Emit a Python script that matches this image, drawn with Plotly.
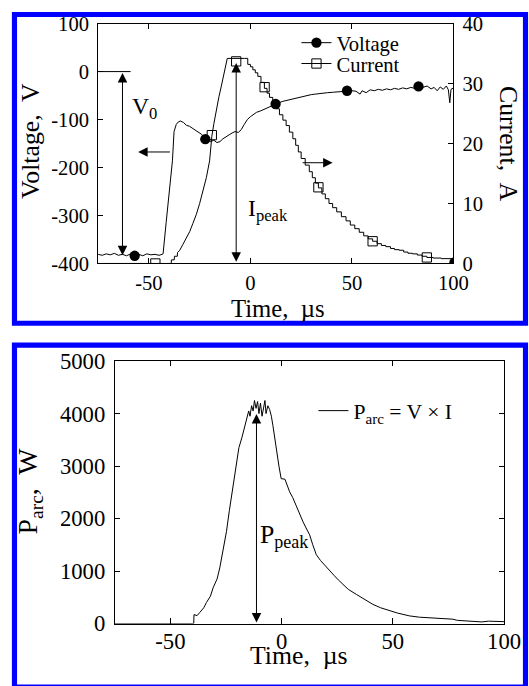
import plotly.graph_objects as go

# Reference picture size; the page is drawn a little larger (the capture scales it to 529 px wide)
REF_W, REF_H = 529, 686
K = 529 / 545          # capture scale
TOP_PAD = 10           # vertical offset of the capture, in picture pixels
W, H = 545, 686
S = 1 / K

# ---------------- Data ----------------
# Voltage trace (time in us, voltage in V)
volt_t = [-75, -73, -71, -69, -67, -65, -63, -61, -59, -57, -55, -53, -51, -49, -47, -45, -43.5, -43,
          -41.5, -40, -38.4, -37.6, -36.5, -35.5, -34.5, -33, -31.5, -30, -28.5, -27, -25.5, -24, -22.5, -21,
          -19.5, -18, -16.5, -15, -13.5, -12, -10.5, -9, -7.5, -6, -4.5, -3, -1.5, 0, 1.5, 3, 5, 7,
          9, 10.5, 12.4, 14, 16, 18, 20, 22, 24, 26, 28, 30, 32, 35, 38, 41, 44, 47.6, 50, 52, 54,
          55, 57, 59, 61, 63, 65, 67, 69, 71, 73, 75, 77, 79, 81, 82.8, 85, 87, 89, 90.5, 92, 93.5,
          95, 96.5, 97.5, 98.2, 98.8, 100]
volt_v = [-381, -383, -380, -382, -379, -383, -381, -384, -380, -383, -381, -384, -380, -382, -381, -383, -381, -380,
          -315, -250, -186, -125, -110, -105, -103, -106, -112, -114, -118, -122, -126, -131, -138, -141,
          -146, -143, -148, -146, -140, -135, -132, -128, -125, -127, -121, -110, -100, -94, -89, -85, -82, -78,
          -75, -71, -68, -65, -62, -60, -58, -56, -53, -51, -50, -48, -47, -45, -44, -43, -42, -40, -40, -41, -47,
          -40, -44, -38, -40, -37, -39, -36, -38, -35, -37, -34, -36, -33, -35, -31, -33, -30, -36, -33, -40, -32,
          -37, -30, -38, -65, -37, -34]
volt_marker_t = [-57, -22.2, 12.4, 47.6, 82.8, 100.5]
volt_marker_v = [-384, -141, -67.6, -40, -31, -398]

# Current trace (time in us, current in A): rising edge, then stepped plateau/decay
curr_rise_t = [-75, -39, -38.9, -37.5, -37.4, -36, -35.9, -34.8, -33.2, -31.5, -29.9, -28.3, -26.6, -25,
               -23.4, -21.7, -20.1, -19, -18, -16.8, -15.5, -14.3, -12.7, -11.9, -11.4]
curr_rise_i = [0, 0, 0.6, 0.6, 1.2, 1.2, 1.8, 2.2, 3.2, 4.2, 5.3, 6.7, 8.2, 10,
               12, 14.3, 17.1, 21.2, 23.3, 25.8, 27.8, 29.6, 32.3, 33.7, 34.2]
curr_fall_t = [-11.4, -2.9, -1.3, 0, 1.2, 2.4, 3.65, 5.2, 6.9, 8.2, 9.4, 11,
               12.7, 14.3, 16, 17.6, 19.2, 20.9, 22.3, 23.6, 25, 27, 29, 30.5, 32, 33.5, 35.2, 36.9, 38.7, 40.5,
               42.5, 44.8, 47.1, 49.2, 51.4, 53.6, 55.8, 58, 60.2, 62.4, 64.5, 66.7, 69, 71, 73.3, 75.5, 77.6,
               79.8, 82.2, 84.5, 86.9, 90, 94, 100]
curr_fall_i = [34.2, 34.2, 33.2, 32.8, 32.3, 31.8, 31.2, 30.2, 29.2, 28.4, 27.7, 26.8,
               25.8, 24.8, 23.9, 23, 21.9, 20.8, 19.7, 18.6, 17.5, 16.4, 15.3, 14.3, 13.4, 12.6, 11.6, 10.8, 10, 9.3,
               8.6, 7.8, 7.1, 6.4, 5.8, 5.2, 4.6, 4.1, 3.7, 3.3, 3.0, 2.8, 2.5, 2.3, 2.2, 1.9, 1.7,
               1.6, 1.4, 1.2, 1.0, 0.9, 0.8, 0.8]
curr_marker_t = [-46.8, -19, -7, 7, 33.5, 60.2, 86.9]
curr_marker_i = [0, 21.4, 33.7, 29.4, 12.7, 3.7, 1.0]

# Arc power trace (time in us, power in W)
pow_t = [-75, -39.5, -39.4, -38, -36.8, -35, -33.8, -32, -30.8, -29, -27.8, -26.5, -24.8, -23.5, -21.9,
         -20.5, -19.2, -17.8, -16.5, -15.5, -14.8, -14.2, -13.5, -12.8, -12.2, -11.5, -10.8, -10.2, -9.5,
         -8.8, -8.2, -7.5, -7, -6.2, -5.4, -4.6, -3.9, -3.2, -2.4, -1.2, -0.2, 1.5, 3.6, 5, 6.5, 8.1, 9.5,
         11, 12.6, 14, 15.6, 17.5, 19.5, 21.6, 23.5, 25.5, 27.6, 30, 33.6, 37, 41, 44.5, 48.5, 52, 55,
         57.5, 62, 68, 72, 77, 79, 86, 90, 93, 98, 100]
pow_p = [0, 0, 170, 150, 210, 300, 400, 520, 680, 850, 1060, 1350, 1750, 2150, 2630,
         3000, 3350, 3550, 3750, 3900, 4050, 3950, 4150, 4050, 4250, 4100, 4230, 4000, 4200,
         3950, 4100, 4250, 4000, 4150, 4080, 3950, 3770, 3550, 3270, 3000, 2760, 2750, 2510, 2400, 2250, 2070, 1950,
         1820, 1690, 1500, 1310, 1200, 1100, 1000, 920, 830, 745, 650, 555, 470, 365, 300, 240, 200, 170,
         145, 120, 100, 95, 82, 60, 40, 30, 45, 40, 35]

# Tick labels
x_ticks = [-50, 0, 50, 100]
x_ticktext = ["-50", "0", "50", "100"]
v_ticks = [100, 0, -100, -200, -300, -400]
v_ticktext = ["100", "0", "-100", "-200", "-300", "-400"]
i_ticks = [0, 10, 20, 30, 40]
i_ticktext = ["0", "10", "20", "30", "40"]
p_ticks = [0, 1000, 2000, 3000, 4000, 5000]
p_ticktext = ["0", "1000", "2000", "3000", "4000", "5000"]

# Annotation anchor values
V0_T, V0_TOP, V0_BOT = -63, 0, -383
LEFT_ARROW = (-38.9, -55.3, -167.6)
RIGHT_ARROW = (25, 40.5, 16.8)
IPEAK_T, IPEAK_TOP, IPEAK_BOT = -7, 33.7, 0.27
PPEAK_T, PPEAK_TOP, PPEAK_BOT = -11.3, 4020, 19

FONT = "Liberation Serif"


def px(x):
    """reference picture x (px) -> paper fraction"""
    return x / REF_W


def py(y):
    """reference picture y (px from top) -> paper fraction"""
    css = (y - TOP_PAD) / K
    return 1 - css / H


def s(v):
    return v * S


fig = go.Figure()

# ---- Top panel ----
fig.add_trace(go.Scatter(x=volt_t, y=volt_v, mode="lines", line=dict(color="black", width=1),
                         xaxis="x", yaxis="y", showlegend=False, hoverinfo="skip"))
fig.add_trace(go.Scatter(x=volt_marker_t, y=volt_marker_v, mode="markers",
                         marker=dict(symbol="circle", size=s(10), color="black"),
                         xaxis="x", yaxis="y", showlegend=False))
fig.add_trace(go.Scatter(x=curr_rise_t, y=curr_rise_i, mode="lines", line=dict(color="black", width=1),
                         xaxis="x", yaxis="y2", showlegend=False, hoverinfo="skip"))
fig.add_trace(go.Scatter(x=curr_fall_t, y=curr_fall_i, mode="lines", line=dict(color="black", width=1, shape="hv"),
                         xaxis="x", yaxis="y2", showlegend=False, hoverinfo="skip"))
fig.add_trace(go.Scatter(x=curr_marker_t, y=curr_marker_i, mode="markers",
                         marker=dict(symbol="square-open", size=s(9), color="black", line=dict(width=1)),
                         xaxis="x", yaxis="y2", showlegend=False))
# legend entries (one legend per entry so the row spacing matches)
fig.add_trace(go.Scatter(x=[None], y=[None], mode="lines+markers", name="Voltage",
                         line=dict(color="black", width=1), marker=dict(symbol="circle", size=s(10), color="black"),
                         xaxis="x", yaxis="y", legend="legend"))
fig.add_trace(go.Scatter(x=[None], y=[None], mode="lines+markers", name="Current",
                         line=dict(color="black", width=1),
                         marker=dict(symbol="square-open", size=s(9), color="black", line=dict(width=1)),
                         xaxis="x", yaxis="y2", legend="legend3"))

# ---- Bottom panel ----
fig.add_trace(go.Scatter(x=pow_t, y=pow_p, mode="lines", line=dict(color="black", width=1),
                         name="P<sub>arc</sub> = V × I", xaxis="x2", yaxis="y3", legend="legend2"))

tick_common = dict(ticks="inside", ticklen=s(5), tickcolor="black", showgrid=False, zeroline=False,
                   showline=True, linecolor="black", linewidth=1)

top_x = [px(98.3), px(454.3)]
top_y = [py(263.3), py(21.7)]
bot_x = [px(115), px(505)]
bot_y = [py(626), py(361.7)]

leg_common = dict(xanchor="left", yanchor="middle", bgcolor="rgba(0,0,0,0)", itemwidth=30,
                  borderwidth=0)

fig.update_layout(
    width=W, height=H, autosize=False,
    margin=dict(l=0, r=0, t=0, b=0),
    paper_bgcolor="white", plot_bgcolor="white",
    font=dict(family=FONT, color="black"),
    xaxis=dict(domain=top_x, anchor="y", range=[-75, 100], tickvals=x_ticks, ticktext=x_ticktext,
               mirror="ticks", tickfont=dict(size=s(20), family=FONT), ticklabelstandoff=1, **tick_common),
    yaxis=dict(domain=top_y, anchor="x", range=[-400, 100], tickvals=v_ticks, ticktext=v_ticktext,
               tickfont=dict(size=s(20), family=FONT), ticklabelstandoff=4, **tick_common),
    yaxis2=dict(domain=top_y, anchor="x", overlaying="y", side="right", range=[0, 40], tickvals=i_ticks,
                ticktext=i_ticktext, tickfont=dict(size=s(20), family=FONT), ticklabelstandoff=4, **tick_common),
    xaxis2=dict(domain=bot_x, anchor="y3", range=[-75, 100], tickvals=x_ticks, ticktext=x_ticktext,
                mirror="ticks", tickfont=dict(size=s(22), family=FONT), ticklabelstandoff=-3, **tick_common),
    yaxis3=dict(domain=bot_y, anchor="x2", range=[0, 5000], tickvals=p_ticks, ticktext=p_ticktext,
                mirror="ticks", tickfont=dict(size=s(22), family=FONT), ticklabelstandoff=4, **tick_common),
    legend=dict(x=px(297), y=py(41), font=dict(size=s(20), family=FONT), **leg_common),
    legend3=dict(x=px(297), y=py(62), font=dict(size=s(20), family=FONT), **leg_common),
    legend2=dict(x=px(314), y=py(412), font=dict(size=s(21), family=FONT), **leg_common),
)

# Blue frames around each panel (top edge kept just inside the visible page)
fig.add_shape(type="rect", xref="paper", yref="paper", x0=px(14.5), x1=px(526.5), y0=py(323.5),
              y1=1 - 2.6 / H, line=dict(color="#0000ff", width=s(5)), fillcolor="rgba(0,0,0,0)", layer="above")
fig.add_shape(type="rect", xref="paper", yref="paper", x0=px(14.5), x1=px(526.5), y0=py(690), y1=py(345.5),
              line=dict(color="#0000ff", width=s(5)), fillcolor="rgba(0,0,0,0)", layer="above")

# V0 reference line at 0 V
fig.add_shape(type="line", xref="x", yref="y", x0=-75, x1=-59, y0=0, y1=0, line=dict(color="black", width=1))

arrow_style = dict(showarrow=True, arrowhead=2, arrowsize=1.9, arrowwidth=1, arrowcolor="black",
                   standoff=0, startstandoff=0, text="")
# V0 double arrow
fig.add_annotation(x=V0_T, y=V0_BOT, ax=V0_T, ay=V0_TOP, xref="x", yref="y", axref="x", ayref="y",
                   arrowside="end+start", startarrowhead=2, startarrowsize=1.9, **arrow_style)
# left-pointing arrow (voltage axis)
fig.add_annotation(x=LEFT_ARROW[1], y=LEFT_ARROW[2], ax=LEFT_ARROW[0], ay=LEFT_ARROW[2], xref="x", yref="y",
                   axref="x", ayref="y", **arrow_style)
# right-pointing arrow (current axis)
fig.add_annotation(x=RIGHT_ARROW[1], y=RIGHT_ARROW[2], ax=RIGHT_ARROW[0], ay=RIGHT_ARROW[2], xref="x",
                   yref="y2", axref="x", ayref="y2", **arrow_style)
# I_peak double arrow
fig.add_annotation(x=IPEAK_T, y=IPEAK_BOT, ax=IPEAK_T, ay=IPEAK_TOP, xref="x", yref="y2", axref="x", ayref="y2",
                   arrowside="end+start", startarrowhead=2, startarrowsize=1.9, **arrow_style)
# P_peak double arrow
fig.add_annotation(x=PPEAK_T, y=PPEAK_BOT, ax=PPEAK_T, ay=PPEAK_TOP, xref="x2", yref="y3", axref="x2",
                   ayref="y3", arrowside="end+start", startarrowhead=2, startarrowsize=1.9, **arrow_style)

# Text labels
fig.add_annotation(x=-59.5, y=-76, xref="x", yref="y", text="V<sub>0</sub>", showarrow=False, xanchor="left",
                   yanchor="middle", font=dict(size=s(23), family=FONT))
fig.add_annotation(x=-2.3, y=-288, xref="x", yref="y", text="I<sub>peak</sub>", showarrow=False,
                   xanchor="left", yanchor="middle", font=dict(size=s(23), family=FONT))
fig.add_annotation(x=-10.4, y=1660, xref="x2", yref="y3", text="P<sub>peak</sub>", showarrow=False,
                   xanchor="left", yanchor="middle", font=dict(size=s(25), family=FONT))

# Axis titles
title_common = dict(xref="paper", yref="paper", showarrow=False, xanchor="center", yanchor="middle")
fig.add_annotation(x=px(30), y=py(140), text="Voltage,&nbsp; V", textangle=-90,
                   font=dict(size=s(25), family=FONT), **title_common)
fig.add_annotation(x=px(510), y=py(143), text="Current,&nbsp; A", textangle=90,
                   font=dict(size=s(25), family=FONT), **title_common)
fig.add_annotation(x=px(279), y=py(309), text="Time,&nbsp; µs",
                   font=dict(size=s(24), family=FONT), **title_common)
fig.add_annotation(x=px(30), y=py(492), text="P<sub>arc</sub>,&nbsp; W", textangle=-90,
                   font=dict(size=s(27), family=FONT), **title_common)
fig.add_annotation(x=px(300), y=0.001, text="Time,&nbsp; µs", xref="paper", yref="paper", showarrow=False,
                   xanchor="center", yanchor="bottom", font=dict(size=s(25), family=FONT))

fig.write_html(
    "out.html",
    config={"displayModeBar": False},
    post_script=("document.body.style.margin='0px';document.body.style.overflow='hidden';"
                 "document.documentElement.style.overflow='hidden';"),
)
